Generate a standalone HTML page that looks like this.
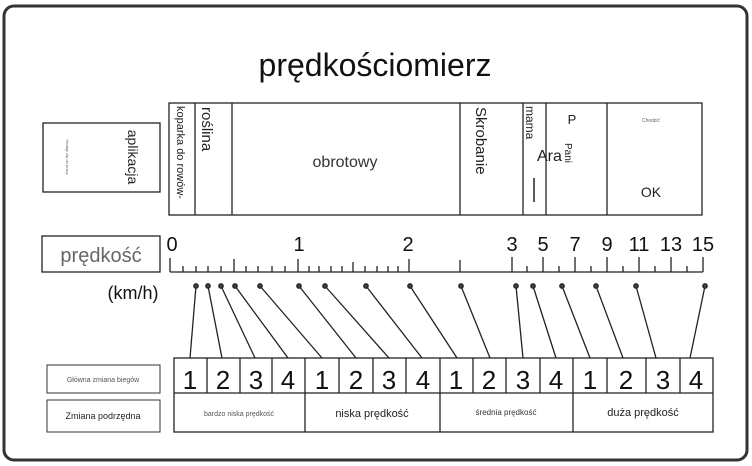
<!DOCTYPE html>
<html><head><meta charset="utf-8"><style>
html,body{margin:0;padding:0;background:#fff;}
svg{display:block;font-family:"Liberation Sans",sans-serif;}
</style></head><body>
<svg width="752" height="466" viewBox="0 0 752 466" xmlns="http://www.w3.org/2000/svg">
<rect x="4" y="6" width="743" height="454" rx="10" fill="#fff" stroke="#333" stroke-width="3"/>
<text x="375" y="76" font-size="32" text-anchor="middle" fill="#111">prędkościomierz</text>

<rect x="43" y="123" width="117" height="69" fill="#fff" stroke="#222" stroke-width="1.3"/>
<text transform="translate(128,157) rotate(90)" font-size="14" text-anchor="middle" fill="#222">aplikacja</text>
<text transform="translate(66,157) rotate(90)" font-size="4" text-anchor="middle" fill="#666">Nadaje się do pracy</text>

<g stroke="#222" stroke-width="1.3" fill="none">
<rect x="169" y="103" width="533" height="112"/>
<line x1="195" y1="103" x2="195" y2="215"/>
<line x1="232" y1="103" x2="232" y2="215"/>
<line x1="460" y1="103" x2="460" y2="215"/>
<line x1="523" y1="103" x2="523" y2="215"/>
<line x1="546" y1="103" x2="546" y2="215"/>
<line x1="607" y1="103" x2="607" y2="215"/>
</g>
<text transform="translate(177,106) rotate(90)" font-size="11" fill="#222">koparka do rowów-</text>
<text transform="translate(202,107) rotate(90)" font-size="15" fill="#222">roślina</text>
<text x="345" y="167" font-size="16" text-anchor="middle" fill="#333">obrotowy</text>
<text transform="translate(476,107) rotate(90)" font-size="15" fill="#222">Skrobanie</text>
<text transform="translate(526,106) rotate(90)" font-size="12" fill="#222">mama</text>
<line x1="534" y1="178" x2="534" y2="202" stroke="#222" stroke-width="1.5"/>
<text x="537" y="161" font-size="16" fill="#222">Ara</text>
<text x="572" y="124" font-size="13" text-anchor="middle" fill="#222">P</text>
<text transform="translate(565,143) rotate(90)" font-size="10" fill="#222">Pani</text>
<text x="651" y="122" font-size="5" text-anchor="middle" fill="#666">Chodzić</text>
<text x="651" y="197" font-size="14" text-anchor="middle" fill="#222">OK</text>

<rect x="42" y="236" width="118" height="36" fill="#fff" stroke="#222" stroke-width="1.3"/>
<text x="101" y="262" font-size="20" text-anchor="middle" fill="#666">prędkość</text>
<text x="133" y="299" font-size="18" text-anchor="middle" fill="#111">(km/h)</text>

<g font-size="20" fill="#111" text-anchor="middle">
<text x="172" y="251">0</text>
<text x="299" y="251">1</text>
<text x="408" y="251">2</text>
<text x="512" y="251">3</text>
<text x="543" y="251">5</text>
<text x="575" y="251">7</text>
<text x="607" y="251">9</text>
<text x="639" y="251">11</text>
<text x="671" y="251">13</text>
<text x="703" y="251">15</text>
</g>
<g stroke="#222" stroke-width="1.3">
<line x1="170" y1="272" x2="703" y2="272"/>
<line x1="170" y1="258" x2="170" y2="272"/>
<line x1="183" y1="266" x2="183" y2="272"/>
<line x1="196" y1="266" x2="196" y2="272"/>
<line x1="208" y1="266" x2="208" y2="272"/>
<line x1="221" y1="266" x2="221" y2="272"/>
<line x1="234" y1="259" x2="234" y2="272"/>
<line x1="246" y1="266" x2="246" y2="272"/>
<line x1="258" y1="266" x2="258" y2="272"/>
<line x1="272" y1="266" x2="272" y2="272"/>
<line x1="285" y1="266" x2="285" y2="272"/>
<line x1="298" y1="259" x2="298" y2="272"/>
<line x1="309" y1="266" x2="309" y2="272"/>
<line x1="319" y1="266" x2="319" y2="272"/>
<line x1="331" y1="266" x2="331" y2="272"/>
<line x1="342" y1="266" x2="342" y2="272"/>
<line x1="353" y1="262" x2="353" y2="272"/>
<line x1="365" y1="266" x2="365" y2="272"/>
<line x1="377" y1="266" x2="377" y2="272"/>
<line x1="388" y1="266" x2="388" y2="272"/>
<line x1="398" y1="266" x2="398" y2="272"/>
<line x1="409" y1="259" x2="409" y2="272"/>
<line x1="460" y1="260" x2="460" y2="272"/>
<line x1="512" y1="257" x2="512" y2="272"/>
<line x1="527" y1="266" x2="527" y2="272"/>
<line x1="543" y1="257" x2="543" y2="272"/>
<line x1="559" y1="266" x2="559" y2="272"/>
<line x1="575" y1="257" x2="575" y2="272"/>
<line x1="591" y1="266" x2="591" y2="272"/>
<line x1="607" y1="257" x2="607" y2="272"/>
<line x1="623" y1="266" x2="623" y2="272"/>
<line x1="639" y1="257" x2="639" y2="272"/>
<line x1="655" y1="266" x2="655" y2="272"/>
<line x1="671" y1="257" x2="671" y2="272"/>
<line x1="687" y1="266" x2="687" y2="272"/>
<line x1="703" y1="257" x2="703" y2="272"/>
</g>

<g stroke="#222" stroke-width="1.3" fill="#444">
<line x1="196" y1="286" x2="190" y2="358"/><circle cx="196" cy="286" r="2.2"/>
<line x1="208" y1="286" x2="222" y2="358"/><circle cx="208" cy="286" r="2.2"/>
<line x1="221" y1="286" x2="255" y2="358"/><circle cx="221" cy="286" r="2.2"/>
<line x1="235" y1="286" x2="288" y2="358"/><circle cx="235" cy="286" r="2.2"/>
<line x1="260" y1="286" x2="322" y2="358"/><circle cx="260" cy="286" r="2.2"/>
<line x1="299" y1="286" x2="356" y2="358"/><circle cx="299" cy="286" r="2.2"/>
<line x1="325" y1="286" x2="389" y2="358"/><circle cx="325" cy="286" r="2.2"/>
<line x1="366" y1="286" x2="422" y2="358"/><circle cx="366" cy="286" r="2.2"/>
<line x1="410" y1="286" x2="457" y2="358"/><circle cx="410" cy="286" r="2.2"/>
<line x1="461" y1="286" x2="490" y2="358"/><circle cx="461" cy="286" r="2.2"/>
<line x1="516" y1="286" x2="523" y2="358"/><circle cx="516" cy="286" r="2.2"/>
<line x1="533" y1="286" x2="556" y2="358"/><circle cx="533" cy="286" r="2.2"/>
<line x1="562" y1="286" x2="590" y2="358"/><circle cx="562" cy="286" r="2.2"/>
<line x1="596" y1="286" x2="623" y2="358"/><circle cx="596" cy="286" r="2.2"/>
<line x1="636" y1="286" x2="656" y2="358"/><circle cx="636" cy="286" r="2.2"/>
<line x1="705" y1="286" x2="690" y2="358"/><circle cx="705" cy="286" r="2.2"/>
</g>

<rect x="47" y="365" width="113" height="28" fill="#fff" stroke="#333" stroke-width="1"/>
<text x="103" y="382" font-size="7" text-anchor="middle" fill="#555">Główna zmiana biegów</text>
<rect x="47" y="400" width="113" height="32" fill="#fff" stroke="#333" stroke-width="1"/>
<text x="103" y="419" font-size="9" text-anchor="middle" fill="#222">Zmiana podrzędna</text>

<g stroke="#222" stroke-width="1.3" fill="none">
<rect x="174" y="358" width="539" height="74"/>
<line x1="174" y1="393" x2="713" y2="393"/>
<line x1="305" y1="358" x2="305" y2="432"/>
<line x1="440" y1="358" x2="440" y2="432"/>
<line x1="573" y1="358" x2="573" y2="432"/>
<line x1="207" y1="358" x2="207" y2="393"/>
<line x1="240" y1="358" x2="240" y2="393"/>
<line x1="272" y1="358" x2="272" y2="393"/>
<line x1="339" y1="358" x2="339" y2="393"/>
<line x1="373" y1="358" x2="373" y2="393"/>
<line x1="406" y1="358" x2="406" y2="393"/>
<line x1="473" y1="358" x2="473" y2="393"/>
<line x1="506" y1="358" x2="506" y2="393"/>
<line x1="540" y1="358" x2="540" y2="393"/>
<line x1="607" y1="358" x2="607" y2="393"/>
<line x1="646" y1="358" x2="646" y2="393"/>
<line x1="680" y1="358" x2="680" y2="393"/>
</g>
<g font-size="26" fill="#111" text-anchor="middle">
<text x="190" y="389">1</text><text x="223" y="389">2</text><text x="256" y="389">3</text><text x="288" y="389">4</text>
<text x="322" y="389">1</text><text x="356" y="389">2</text><text x="389" y="389">3</text><text x="423" y="389">4</text>
<text x="456" y="389">1</text><text x="489" y="389">2</text><text x="523" y="389">3</text><text x="556" y="389">4</text>
<text x="590" y="389">1</text><text x="626" y="389">2</text><text x="663" y="389">3</text><text x="696" y="389">4</text>
</g>
<text x="239" y="416" font-size="7" text-anchor="middle" fill="#555">bardzo niska prędkość</text>
<text x="372" y="417" font-size="11" text-anchor="middle" fill="#222">niska prędkość</text>
<text x="506" y="415" font-size="8" text-anchor="middle" fill="#333">średnia prędkość</text>
<text x="643" y="416" font-size="11" text-anchor="middle" fill="#222">duża prędkość</text>
</svg>
</body></html>
